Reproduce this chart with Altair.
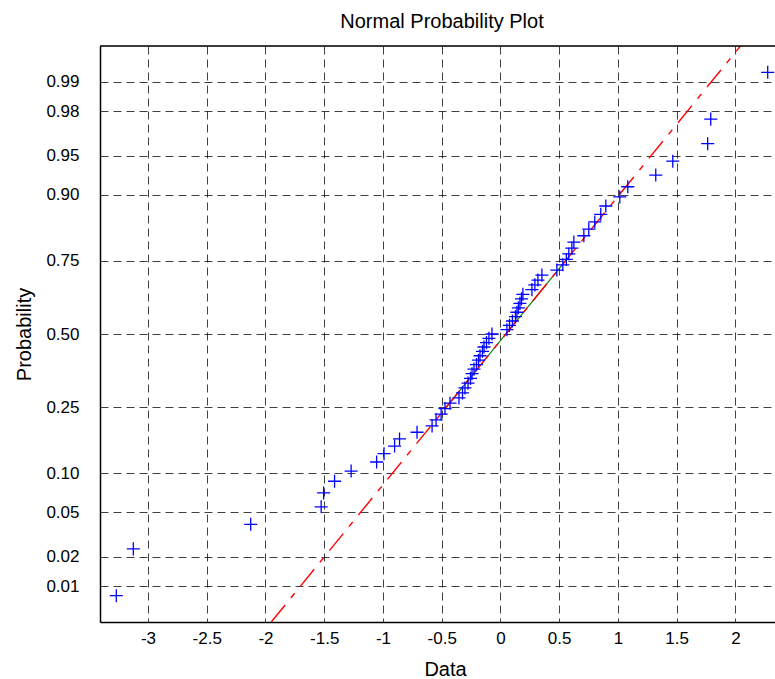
import altair as alt
import pandas as pd
import numpy as np
from statistics import NormalDist

data_values = [
    -3.27, -3.125, -2.126, -1.526, -1.505, -1.412, -1.271, -1.054, -0.991, -0.901,
    -0.859, -0.710, -0.582, -0.548, -0.505, -0.472, -0.429, -0.353, -0.323, -0.302,
    -0.276, -0.255, -0.242, -0.225, -0.204, -0.187, -0.174, -0.153, -0.140, -0.119,
    -0.098, -0.072, 0.055, 0.077, 0.102, 0.128, 0.140, 0.153, 0.166, 0.179,
    0.191, 0.268, 0.293, 0.319, 0.353, 0.480, 0.531, 0.561, 0.582, 0.608,
    0.625, 0.710, 0.752, 0.803, 0.854, 0.897, 1.016, 1.084, 1.322, 1.467,
    1.764, 1.790, 2.275,
]
prob_ticks = [0.01, 0.02, 0.05, 0.10, 0.25, 0.50, 0.75, 0.90, 0.95, 0.98, 0.99]
prob_labels = ["0.01", "0.02", "0.05", "0.10", "0.25", "0.50", "0.75", "0.90", "0.95", "0.98", "0.99"]
x_ticks = [-3, -2.5, -2, -1.5, -1, -0.5, 0, 0.5, 1, 1.5, 2]

nd = NormalDist()
xs = np.sort(np.array(data_values))
n = len(xs)
eprob = (np.arange(1, n + 1) - 0.5) / n
zs = np.array([nd.inv_cdf(p) for p in eprob])

# axis limits as in MATLAB normplot
rng = xs.max() - xs.min()
x_lo = xs.min() - 0.025 * rng
x_hi_full = xs.max() + 0.025 * rng
z_lo = nd.inv_cdf(0.25 / n)
z_hi = nd.inv_cdf((n - 0.25) / n)

# visible window: plot runs past the right edge of the page
plot_w_full = 684.0
plot_w = 675.0
x_hi = x_lo + (x_hi_full - x_lo) * plot_w / plot_w_full

# quartile reference line
q1 = np.interp(0.25, eprob, xs)
q3 = np.interp(0.75, eprob, xs)
z1, z3 = nd.inv_cdf(0.25), nd.inv_cdf(0.75)
slope = (q3 - q1) / (z3 - z1)
def line_x(z):
    return q1 + (z - z1) * slope

pts = pd.DataFrame({"x": xs, "z": zs})
dash_df = pd.DataFrame({"x": [line_x(z_lo), line_x(z_hi)], "z": [z_lo, z_hi]})
seg_df = pd.DataFrame({"x": [q1, q3], "z": [z1, z3]})

z_tick_vals = [nd.inv_cdf(p) for p in prob_ticks]
label_expr = "''"
for v, lab in zip(z_tick_vals, prob_labels):
    label_expr = f"abs(datum.value - ({v:.6f})) < 1e-4 ? '{lab}' : " + label_expr

FONT = "Liberation Sans"

xscale = alt.Scale(domain=[x_lo, x_hi], nice=False, zero=False)
yscale = alt.Scale(domain=[z_lo, z_hi], nice=False, zero=False)

xaxis = alt.Axis(
    values=x_ticks, labelExpr="toString(datum.value)", title="Data",
    grid=True, gridDash=[8, 5], gridColor="#000000", gridOpacity=0.75, gridWidth=1,
    ticks=False, domain=True, domainColor="#000000", domainWidth=1.5,
    labelFont=FONT, labelFontSize=17, labelColor="#000000", labelPadding=8,
    titleFont=FONT, titleFontSize=20, titleFontWeight="normal", titleColor="#000000",
    titleX=345, titleY=53, titleBaseline="alphabetic", titleAlign="center", titleAnchor="start",
    labelFlush=False, labelOverlap=False,
)
yaxis = alt.Axis(
    values=z_tick_vals, labelExpr=label_expr, title="Probability",
    grid=True, gridDash=[8, 5], gridColor="#000000", gridOpacity=0.75, gridWidth=1,
    ticks=False, domain=True, domainColor="#000000", domainWidth=1.5,
    labelFont=FONT, labelFontSize=17, labelColor="#000000", labelPadding=21,
    titleFont=FONT, titleFontSize=20, titleFontWeight="normal", titleColor="#000000",
    titleX=-76, titleBaseline="middle", titleAngle=-90,
    labelFlush=False, labelOverlap=False,
)

base_x = alt.X("x:Q", scale=xscale, axis=xaxis)
base_y = alt.Y("z:Q", scale=yscale, axis=yaxis)

seg = alt.Chart(seg_df).mark_line(color="#008000", strokeWidth=1.2, clip=True).encode(
    x=base_x, y=base_y
)

dash = alt.Chart(dash_df).mark_line(
    color="#ff0000", strokeWidth=1.4, strokeDash=[22, 9, 6, 9], clip=True
).encode(x=alt.X("x:Q", scale=xscale), y=alt.Y("z:Q", scale=yscale))

points = alt.Chart(pts).mark_point(
    shape="M-1,0L1,0M0,-1L0,1", size=170, filled=False, color="#0000ff",
    strokeWidth=1.3, opacity=1, clip=True
).encode(x=alt.X("x:Q", scale=xscale), y=alt.Y("z:Q", scale=yscale))

top_line = alt.Chart(pd.DataFrame({"k": [0]})).mark_rule(color="#000000", strokeWidth=1.5).encode(
    x=alt.value(0), x2=alt.value(plot_w), y=alt.value(0)
)

chart = alt.layer(seg, dash, points, top_line).properties(
    width=plot_w, height=576,
    title=alt.TitleParams(
        "Normal Probability Plot", font=FONT, fontSize=20, fontWeight="normal",
        color="#000000", anchor="middle", dx=4.5, offset=-3, baseline="alphabetic",
    ),
    autosize=alt.AutoSizeParams(type="none"),
    padding={"left": 100, "top": 46, "right": 0, "bottom": 57},
).configure_view(stroke=None).configure(background="#ffffff")

chart.save("out.html", embed_options={"renderer": "svg", "actions": False})
